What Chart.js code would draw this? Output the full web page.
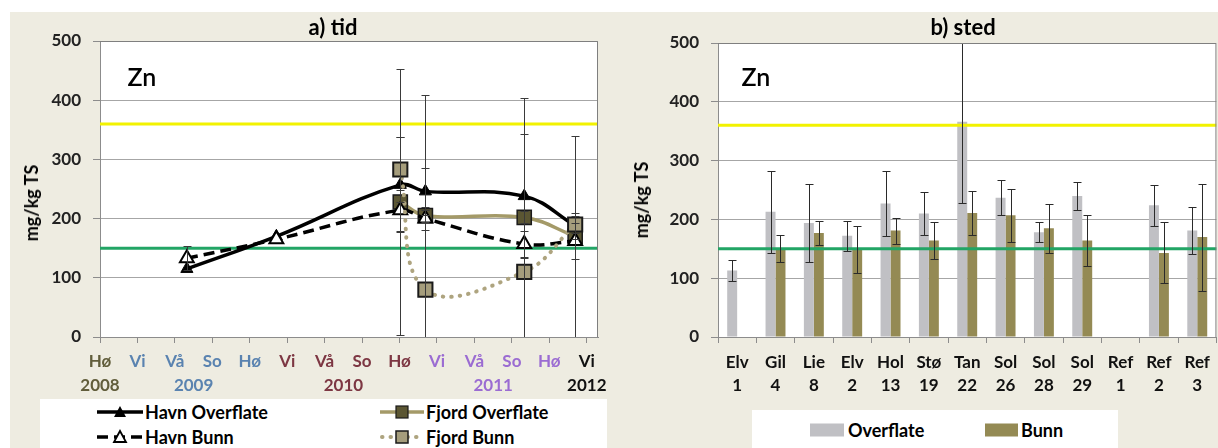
<!DOCTYPE html>
<html lang="no">
<head>
<meta charset="UTF-8">
<title>Zn - tid og sted</title>
<script src="https://cdn.jsdelivr.net/npm/chart.js@4.4.1/dist/chart.umd.min.js"></script>
<style>
  body { margin: 0; width: 1218px; height: 448px; position: relative; overflow: hidden; background: #fff; font-family: Lato, 'Open Sans', sans-serif; }
  .bg { position: absolute; left: 10px; top: 12px; width: 1208px; height: 436px; background: #eeece1; }
  canvas { position: absolute; top: 0; }
  #tid { left: 0; }
  #sted { left: 610px; }
  .lbl { position: absolute; white-space: nowrap; line-height: 1; transform: translate(-50%, -50%); color: #000; }
  .title { font-size: 22px; font-weight: bold; }
  .zn { font-size: 25px; font-weight: 600; }
  .ytitle { font-size: 18px; font-weight: bold; transform: translate(-50%, -50%) rotate(-90deg); }
  .legend { position: absolute; background: #fff; }
  .item { position: absolute; font-size: 18px; font-weight: bold; line-height: 1; transform: translateY(-50%); white-space: nowrap; }
  .sample { position: absolute; transform: translateY(-50%); }
  .swatch { position: absolute; height: 13px; transform: translateY(-50%); }
</style>
</head>
<body>
<div class="bg"></div>
<canvas id="tid" width="610" height="400"></canvas>
<canvas id="sted" width="608" height="400"></canvas>

<div class="lbl title" style="left:333px; top:27px;">a) tid</div>
<div class="lbl title" style="left:963px; top:27px;">b) sted</div>
<div class="lbl zn" style="left:142px; top:76px;">Zn</div>
<div class="lbl zn" style="left:756px; top:76px;">Zn</div>
<div class="lbl ytitle" style="left:31px; top:203px;">mg/kg TS</div>
<div class="lbl ytitle" style="left:641px; top:200px;">mg/kg TS</div>

<!-- legend a) -->
<div class="legend" style="left:40px; top:399px; width:567px; height:49px;"></div>
<svg class="sample" style="left:97px; top:412px;" width="46" height="16">
  <line x1="0" y1="8" x2="46" y2="8" stroke="#000" stroke-width="3.5"/>
  <polygon points="23,2 29,13 17,13" fill="#000"/>
</svg>
<div class="item" style="left:145px; top:412px;">Havn Overflate</div>
<svg class="sample" style="left:97px; top:437px;" width="46" height="16">
  <line x1="0" y1="8" x2="46" y2="8" stroke="#000" stroke-width="3.5" stroke-dasharray="11 6"/>
  <polygon points="23,2 29,13 17,13" fill="#fff" stroke="#000" stroke-width="1.8"/>
</svg>
<div class="item" style="left:145px; top:437px;">Havn Bunn</div>
<svg class="sample" style="left:380px; top:412px;" width="44" height="16">
  <line x1="0" y1="8" x2="44" y2="8" stroke="#a49a68" stroke-width="3.5"/>
  <rect x="16" y="2" width="12" height="12" fill="#5b5633" stroke="#1a1a1a" stroke-width="1.2"/>
</svg>
<div class="item" style="left:426px; top:412px;">Fjord Overflate</div>
<svg class="sample" style="left:380px; top:437px;" width="44" height="16">
  <line x1="2" y1="8" x2="44" y2="8" stroke="#aea47f" stroke-width="4" stroke-linecap="round" stroke-dasharray="0.5 8"/>
  <rect x="16" y="2" width="12" height="12" fill="#a59d7c" stroke="#1a1a1a" stroke-width="1.5"/>
</svg>
<div class="item" style="left:426px; top:437px;">Fjord Bunn</div>

<!-- legend b) -->
<div class="legend" style="left:752px; top:410px; width:366px; height:38px;"></div>
<div class="swatch" style="left:810px; top:430px; width:34px; background:#c0c0c4;"></div>
<div class="item" style="left:848px; top:430px;">Overflate</div>
<div class="swatch" style="left:985px; top:430px; width:33px; background:#948a54;"></div>
<div class="item" style="left:1021px; top:430px;">Bunn</div>

<script>
// ---------- data: a) tid ----------
const seasonLabels = ['Hø', 'Vi', 'Vå', 'So', 'Hø', 'Vi', 'Vå', 'So', 'Hø', 'Vi', 'Vå', 'So', 'Hø', 'Vi'];
const seasonYear = [2008, 2009, 2009, 2009, 2009, 2010, 2010, 2010, 2010, 2011, 2011, 2011, 2011, 2012];
const yearLabels = ['2008', '2009', '2010', '2011', '2012'];
const yearCentre = [0, 2.5, 6.5, 10.5, 13];          // middle of each year's seasons (season index)
const sampleSeason = [2.32, 4.71, 8.02, 8.69, 11.33, 12.69];

const havnOverflate = [115, 170, 257, 246, 238, 188];
const havnOverflateSd = [0, 0, 80, 40, 105, 22];
const havnBunn = [133, 165, 214, 200, 157, 162];
const havnBunnSd = [20, 0, 35, 20, 22, 30];
const fjordOverflate = [null, null, 228, 205, 202, 170];
const fjordOverflateSd = [null, null, 225, 10, 10, 170];
const fjordBunn = [null, null, 283, 80, 110, 190];
const fjordBunnSd = [null, null, 55, 328, 293, 15];

// ---------- data: b) sted ----------
const stations = [['Elv', '1'], ['Gil', '4'], ['Lie', '8'], ['Elv', '2'], ['Hol', '13'], ['Stø', '19'], ['Tan', '22'],
                  ['Sol', '26'], ['Sol', '28'], ['Sol', '29'], ['Ref', '1'], ['Ref', '2'], ['Ref', '3']];
const overflate = [113, 213, 194, 172, 227, 210, 366, 237, 178, 240, null, 224, 181];
const overflateSd = [18, 70, 67, 25, 55, 37, 138, 30, 17, 24, null, 35, 40];
const bunn = [null, 150, 177, 148, 181, 164, 211, 207, 185, 164, null, 143, 170];
const bunnSd = [null, 23, 20, 40, 22, 32, 37, 45, 42, 43, null, 52, 91];

const yTicks = [0, 100, 200, 300, 400, 500];
const classLimits = [150, 360];

// ---------- styles ----------
const yearColor = { 2008: '#615d3b', 2009: '#5a83b0', 2010: '#7d3743', 2011: '#9b6cd2', 2012: '#111111' };
const limitColor = ['#22a565', '#f2f200'];
const tickFont = { size: 17, weight: 'bold' };

Chart.defaults.font.family = "Lato, 'Open Sans', sans-serif";
Chart.defaults.color = '#1a1a1a';

// white plot area + top/right frame
const plotFrame = {
  id: 'plotFrame',
  beforeDraw(chart) {
    const { ctx, chartArea: a } = chart;
    ctx.save();
    ctx.fillStyle = '#fff';
    ctx.fillRect(a.left, a.top, a.right - a.left, a.bottom - a.top);
    ctx.restore();
  },
  afterDraw(chart) {
    const { ctx, chartArea: a } = chart;
    ctx.save();
    ctx.strokeStyle = '#7f7f7f';
    ctx.lineWidth = 1;
    ctx.beginPath();
    ctx.moveTo(a.left, a.top + 0.5);
    ctx.lineTo(a.right - 0.5, a.top + 0.5);
    ctx.lineTo(a.right - 0.5, a.bottom);
    ctx.stroke();
    ctx.restore();
  }
};

function drawLimits(chart) {
  const { ctx, chartArea: a, scales: { y } } = chart;
  ctx.save();
  ctx.lineWidth = 3;
  classLimits.forEach((v, i) => {
    const py = y.getPixelForValue(v);
    ctx.strokeStyle = limitColor[i];
    ctx.beginPath();
    ctx.moveTo(a.left, py);
    ctx.lineTo(a.right, py);
    ctx.stroke();
  });
  ctx.restore();
}
const limitLines = {
  id: 'limitLines',
  beforeDatasetsDraw(chart, args, opts) { if (!opts.front) drawLimits(chart); },
  afterDatasetsDraw(chart, args, opts) { if (opts.front) drawLimits(chart); }
};

// vertical error bars from each dataset's "sd" array
const errorBars = {
  id: 'errorBars',
  afterDatasetsDraw(chart, args, opts) {
    const { ctx, chartArea: a, scales: { y } } = chart;
    ctx.save();
    ctx.beginPath();
    ctx.rect(a.left, a.top, a.right - a.left, a.bottom - a.top);
    ctx.clip();
    ctx.strokeStyle = opts.color || '#333';
    ctx.lineWidth = 1;
    const cap = opts.cap || 4;
    chart.data.datasets.forEach((ds, di) => {
      if (!ds.sd) return;
      const meta = chart.getDatasetMeta(di);
      meta.data.forEach((el, i) => {
        const raw = ds.data[i];
        const v = raw && typeof raw === 'object' ? raw.y : raw;
        const e = ds.sd[i];
        if (v == null || !e) return;
        const x = Math.round(el.x) + 0.5;
        const hi = Math.round(y.getPixelForValue(v + e)) + 0.5;
        const lo = Math.round(y.getPixelForValue(v - e)) + 0.5;
        ctx.beginPath();
        ctx.moveTo(x, hi); ctx.lineTo(x, lo);
        ctx.moveTo(x - cap, hi); ctx.lineTo(x + cap, hi);
        ctx.moveTo(x - cap, lo); ctx.lineTo(x + cap, lo);
        ctx.stroke();
      });
    });
    ctx.restore();
  }
};

function yScale(width, pad) {
  return {
    min: 0, max: 500,
    afterBuildTicks: s => { s.ticks = yTicks.map(v => ({ value: v })); },
    afterFit: s => { s.width = width; },
    grid: { color: '#a6a6a6', tickLength: 7, tickColor: '#8c8c8c' },
    border: { color: '#8c8c8c' },
    ticks: { font: tickFont, padding: pad, color: '#222' }
  };
}

// ---------- a) tid ----------
const pts = ys => sampleSeason.map((x, i) => ({ x, y: ys[i] }));
const seasonMax = 13.3;

new Chart(document.getElementById('tid'), {
  type: 'line',
  data: {
    datasets: [{
      label: 'Fjord Bunn', data: pts(fjordBunn), sd: fjordBunnSd, order: 0,
      borderColor: '#aea47f', borderWidth: 4, borderDash: [0.5, 8], borderCapStyle: 'round',
      pointStyle: 'rect', pointRadius: 10, pointBackgroundColor: '#a59d7c', pointBorderColor: '#1a1a1a', pointBorderWidth: 2
    }, {
      label: 'Havn Bunn', data: pts(havnBunn), sd: havnBunnSd, order: 1,
      borderColor: '#000', borderWidth: 3.5, borderDash: [11, 6],
      pointStyle: 'triangle', pointRadius: 8, pointBackgroundColor: '#fff', pointBorderColor: '#000', pointBorderWidth: 2
    }, {
      label: 'Havn Overflate', data: pts(havnOverflate), sd: havnOverflateSd, order: 2,
      borderColor: '#000', borderWidth: 3.5,
      pointStyle: 'triangle', pointRadius: 7, pointBackgroundColor: '#000', pointBorderColor: '#000', pointBorderWidth: 1
    }, {
      label: 'Fjord Overflate', data: pts(fjordOverflate), sd: fjordOverflateSd, order: 3,
      borderColor: '#a49a68', borderWidth: 3.5,
      pointStyle: 'rect', pointRadius: 10, pointBackgroundColor: '#5b5633', pointBorderColor: '#1a1a1a', pointBorderWidth: 1.5
    }]
  },
  options: {
    responsive: false,
    animation: false,
    layout: { padding: { top: 41, right: 11, left: 0, bottom: 0 } },
    elements: { line: { tension: 0.4, fill: false } },
    plugins: { legend: { display: false }, tooltip: { enabled: false },
               limitLines: { front: false }, errorBars: { color: '#3a3a3a', cap: 4 } },
    scales: {
      x: {
        type: 'linear', min: 0, max: seasonMax, position: 'bottom',
        afterBuildTicks: s => { s.ticks = seasonLabels.map((_, i) => ({ value: i })); },
        afterFit: s => { s.height = 30; s.paddingLeft = 0; s.paddingRight = 0; },
        grid: { drawOnChartArea: false, tickLength: 6, color: '#8c8c8c' },
        border: { color: '#8c8c8c' },
        ticks: {
          autoSkip: false, maxRotation: 0, minRotation: 0, padding: 8,
          font: { size: 17, weight: 'bold', lineHeight: 1.2 },
          color: c => yearColor[seasonYear[c.index]],
          callback: (v, i) => seasonLabels[i]
        }
      },
      xy: {
        type: 'linear', min: 0, max: seasonMax, position: 'bottom', weight: 1,
        afterBuildTicks: s => { s.ticks = yearCentre.map(v => ({ value: v })); },
        afterFit: s => { s.height = 33; s.paddingLeft = 0; s.paddingRight = 0; },
        grid: { display: false, drawTicks: false },
        border: { display: false },
        ticks: {
          autoSkip: false, maxRotation: 0, minRotation: 0, padding: 8,
          font: { size: 17, weight: 'bold', lineHeight: 1.2 },
          color: c => yearColor[yearLabels[c.index]],
          callback: (v, i) => yearLabels[i]
        }
      },
      y: yScale(100, 12)
    }
  },
  plugins: [plotFrame, limitLines, errorBars]
});

// ---------- b) sted ----------
new Chart(document.getElementById('sted'), {
  type: 'bar',
  data: {
    labels: stations,
    datasets: [{
      label: 'Overflate', data: overflate, sd: overflateSd, backgroundColor: '#c0c0c4'
    }, {
      label: 'Bunn', data: bunn, sd: bunnSd, backgroundColor: '#948a54'
    }]
  },
  options: {
    responsive: false,
    animation: false,
    layout: { padding: { top: 43, right: 1, left: 0, bottom: 0 } },
    datasets: { bar: { categoryPercentage: 0.52, barPercentage: 1 } },
    plugins: { legend: { display: false }, tooltip: { enabled: false },
               limitLines: { front: true }, errorBars: { color: '#2a2a2a', cap: 4 } },
    scales: {
      x: {
        afterFit: s => { s.height = 63; },
        grid: { drawOnChartArea: false, tickLength: 6, color: '#8c8c8c', offset: true },
        border: { color: '#8c8c8c' },
        ticks: { autoSkip: false, maxRotation: 0, minRotation: 0, padding: 8,
                 font: { size: 17, weight: 'bold', lineHeight: 1.35 }, color: '#111' }
      },
      y: yScale(108, 12)
    }
  },
  plugins: [plotFrame, limitLines, errorBars]
});
</script>
</body>
</html>
